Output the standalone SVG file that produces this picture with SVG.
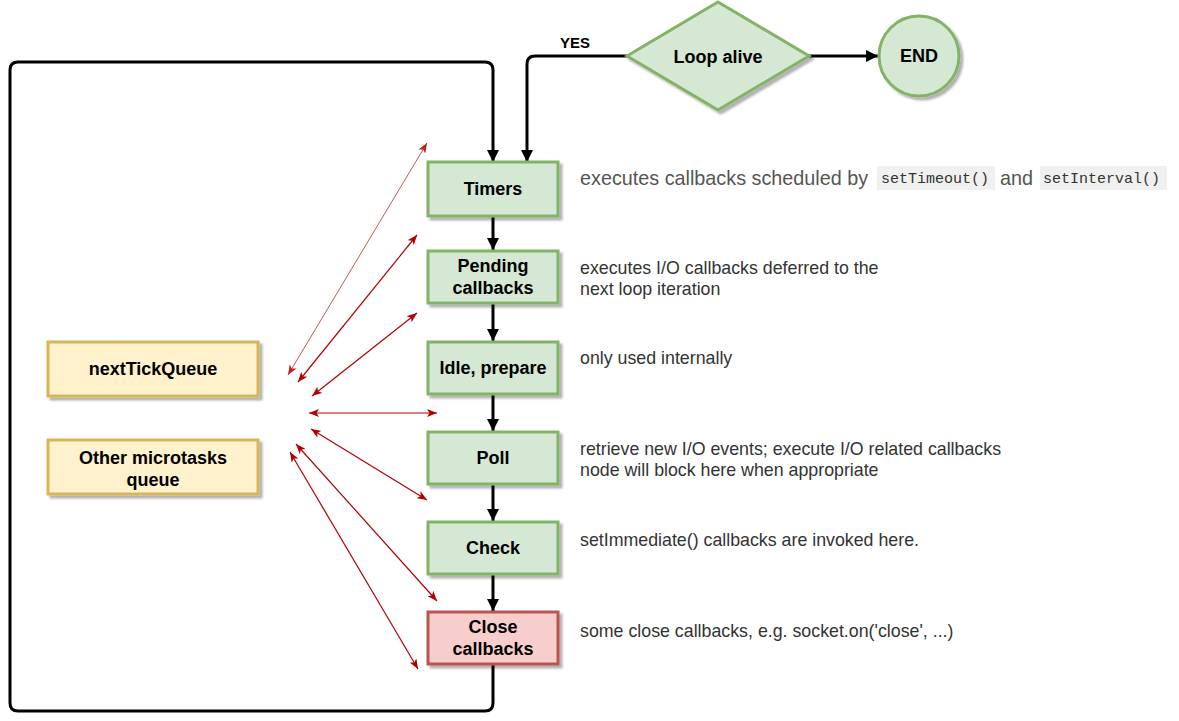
<svg xmlns="http://www.w3.org/2000/svg" width="1179" height="721" viewBox="0 0 1179 721">
<style>
.node text{font-family:"Liberation Sans",Arial,sans-serif;font-weight:bold;font-size:18px;fill:#000;text-anchor:middle;dominant-baseline:central}
.green{fill:#d5e8d4;stroke:#82b366;stroke-width:3}
.red{fill:#f8cecc;stroke:#b85450;stroke-width:3}
.yellow{fill:#fff2cc;stroke:#d6b656;stroke-width:3}
.conn{fill:none;stroke:#000;stroke-width:3}
.micro{fill:none;stroke:#b20000;stroke-width:1.2}
.desc{font-family:"Liberation Sans",Arial,sans-serif;font-size:17.8px;fill:#333;dominant-baseline:central}
.big{font-family:"Liberation Sans",Arial,sans-serif;font-size:19.8px;fill:#555;dominant-baseline:central}
.code{font-family:"Liberation Mono","DejaVu Sans Mono",monospace;font-size:15px;fill:#333;dominant-baseline:central}
.codebg{fill:#f0f0f0}
</style>
<defs>
<filter id="sh" x="-10%" y="-10%" width="130%" height="140%">
<feDropShadow dx="3" dy="3" stdDeviation="1.2" flood-color="#000" flood-opacity="0.3"/>
</filter>
<marker id="ah" viewBox="0 0 12 12" refX="12" refY="6" markerWidth="12" markerHeight="12" markerUnits="userSpaceOnUse" orient="auto">
<path d="M0,0 L12,6 L0,12 Z" fill="#000"/>
</marker>
<marker id="rh" viewBox="0 0 10 8" refX="10" refY="4" markerWidth="10" markerHeight="8" markerUnits="userSpaceOnUse" orient="auto-start-reverse">
<path d="M0,0 L10,4 L0,8 L2.5,4 Z" fill="#b20000"/>
</marker>
</defs>
<rect width="1179" height="721" fill="#fff"/>

<g id="connectors">
<path class="conn" d="M493,664 L493,703 Q493,711 485,711 L18,711 Q10,711 10,703 L10,70 Q10,62 18,62 L485,62 Q493,62 493,70 L493,162" marker-end="url(#ah)"/>
<path class="conn" d="M627,56 L535,56 Q527,56 527,64 L527,162" marker-end="url(#ah)"/>
<path class="conn" d="M809,56 L878,56" marker-end="url(#ah)"/>
<path class="conn" d="M493,216 L493,250" marker-end="url(#ah)"/>
<path class="conn" d="M493,303 L493,341" marker-end="url(#ah)"/>
<path class="conn" d="M493,394 L493,431" marker-end="url(#ah)"/>
<path class="conn" d="M493,484 L493,521" marker-end="url(#ah)"/>
<path class="conn" d="M493,574 L493,611" marker-end="url(#ah)"/>
<path class="micro" style="stroke-width:0.8;opacity:0.85" d="M288,375 L427,143" marker-start="url(#rh)" marker-end="url(#rh)"/>
<path class="micro" d="M298,382 L417,235" marker-start="url(#rh)" marker-end="url(#rh)"/>
<path class="micro" d="M312,396 L417,313" marker-start="url(#rh)" marker-end="url(#rh)"/>
<path class="micro" d="M309,413 L437,413" marker-start="url(#rh)" marker-end="url(#rh)"/>
<path class="micro" d="M311,429 L427,500" marker-start="url(#rh)" marker-end="url(#rh)"/>
<path class="micro" d="M296,444 L437,601" marker-start="url(#rh)" marker-end="url(#rh)"/>
<path class="micro" d="M290,452 L418,669" marker-start="url(#rh)" marker-end="url(#rh)"/>
</g>

<g id="loop-alive" class="node">
<polygon class="green" points="718,2 809,56 718,110 627,56" filter="url(#sh)"/>
<text x="718" y="57">Loop alive</text>
</g>
<g id="yes-label" class="node">
<text x="575" y="42" style="font-size:15px">YES</text>
</g>
<g id="end" class="node">
<circle class="green" cx="919" cy="56" r="40" filter="url(#sh)"/>
<text x="919" y="56">END</text>
</g>

<g id="timers" class="node">
<rect class="green" x="428" y="162" width="130" height="54" filter="url(#sh)"/>
<text x="493" y="189">Timers</text>
</g>
<g id="pending" class="node">
<rect class="green" x="428" y="251" width="130" height="52" filter="url(#sh)"/>
<text x="493" y="266">Pending</text>
<text x="493" y="288">callbacks</text>
</g>
<g id="idle" class="node">
<rect class="green" x="428" y="342" width="130" height="52" filter="url(#sh)"/>
<text x="493" y="368">Idle, prepare</text>
</g>
<g id="poll" class="node">
<rect class="green" x="428" y="432" width="130" height="52" filter="url(#sh)"/>
<text x="493" y="458">Poll</text>
</g>
<g id="check" class="node">
<rect class="green" x="428" y="522" width="130" height="52" filter="url(#sh)"/>
<text x="493" y="548">Check</text>
</g>
<g id="close" class="node">
<rect class="red" x="428" y="612" width="130" height="52" filter="url(#sh)"/>
<text x="493" y="627">Close</text>
<text x="493" y="649">callbacks</text>
</g>

<g id="nexttick" class="node">
<rect class="yellow" x="48" y="342" width="210" height="54" filter="url(#sh)"/>
<text x="153" y="369">nextTickQueue</text>
</g>
<g id="microtasks" class="node">
<rect class="yellow" x="48" y="440" width="210" height="54" filter="url(#sh)"/>
<text x="153" y="458">Other microtasks</text>
<text x="153" y="480">queue</text>
</g>

<g id="descriptions">
<text class="big" x="580" y="178">executes callbacks scheduled by</text>
<rect class="codebg" x="877" y="166" width="118" height="24"/>
<text class="code" x="881" y="179">setTimeout()</text>
<text class="big" x="1000" y="178">and</text>
<rect class="codebg" x="1040" y="166" width="127" height="24"/>
<text class="code" x="1043" y="179">setInterval()</text>
<text class="desc" x="580" y="268">executes I/O callbacks deferred to the</text>
<text class="desc" x="580" y="289">next loop iteration</text>
<text class="desc" x="580" y="358">only used internally</text>
<text class="desc" x="580" y="449">retrieve new I/O events; execute I/O related callbacks</text>
<text class="desc" x="580" y="470">node will block here when appropriate</text>
<text class="desc" x="580" y="540">setImmediate() callbacks are invoked here.</text>
<text class="desc" x="580" y="631">some close callbacks, e.g. socket.on('close', ...)</text>
</g>
</svg>
